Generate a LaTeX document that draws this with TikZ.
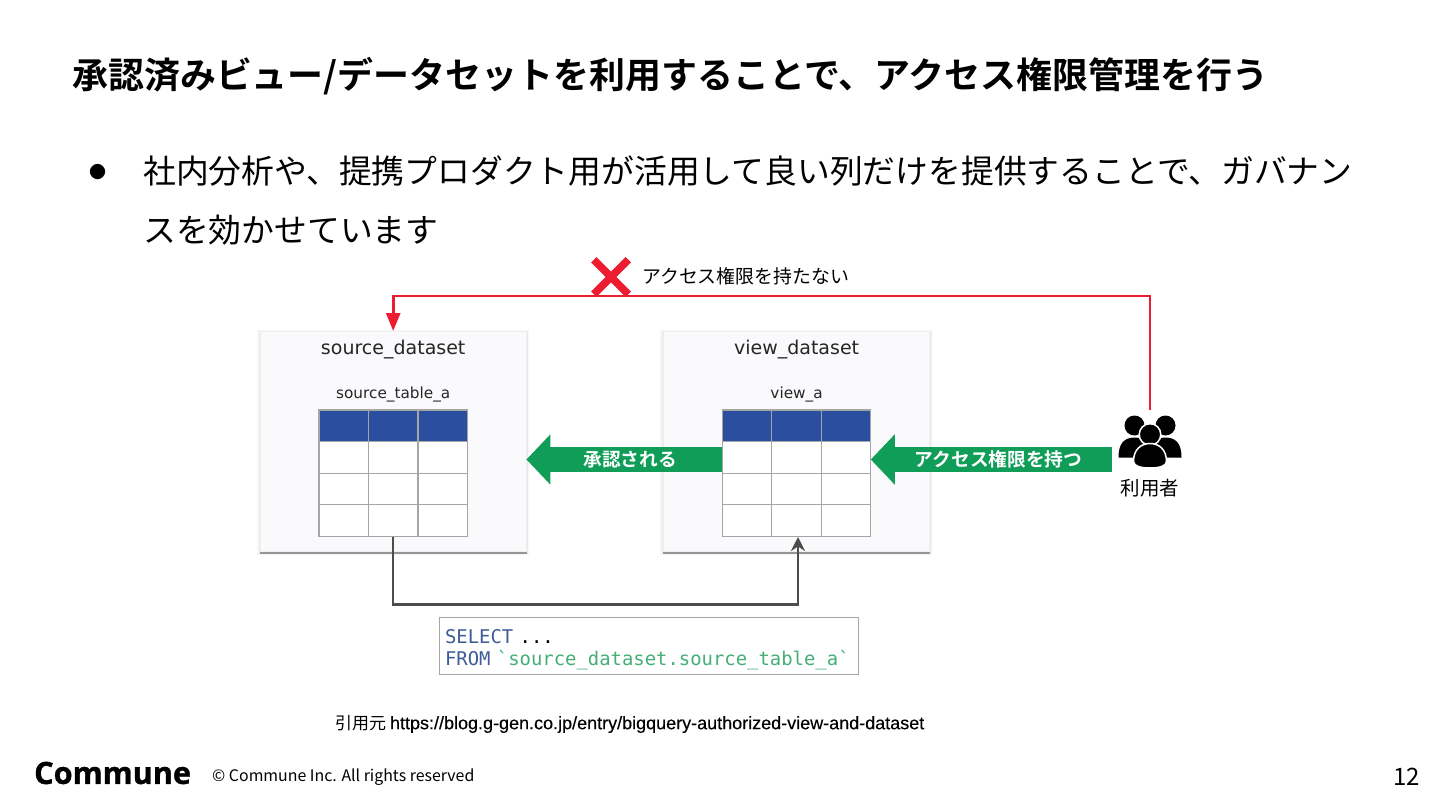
\documentclass[tikz,border=0pt]{standalone}
\usepackage{fontspec}
\usepackage{xcolor}
\usetikzlibrary{arrows.meta,positioning,shadows,shapes.misc,calc}
\setmainfont{Noto Sans CJK JP}
\newfontfamily\cjkbold{Noto Sans CJK JP Bold}
\newfontfamily\dejasans{DejaVu Sans}
\newfontfamily\dejamono{DejaVu Sans Mono}
\newfontfamily\arialfont[FakeBold=0.3]{Liberation Sans}
\newfontfamily\logofont[FakeBold=1.2]{Open Sans}
\definecolor{cajaset}{RGB}{250,250,253}
\definecolor{cajahead}{RGB}{43,79,159}
\definecolor{lineagrid}{RGB}{165,165,165}
\definecolor{lineared}{RGB}{237,28,48}
\definecolor{lineagris}{RGB}{77,77,77}
\definecolor{flechaverde}{RGB}{15,157,88}
\definecolor{sqlazul}{RGB}{62,92,150}
\definecolor{sqlverde}{RGB}{70,175,120}
\newcommand{\fsize}[1]{\fontsize{#1}{#1}\selectfont}
\newcommand{\datatable}[2]{%
  \node[tablebox, #2] (#1) {};
  \node[headbox, anchor=north] (#1Head) at (#1.north) {};
  \foreach \f in {0.3333,0.6667}
    \draw[gridline] ($(#1.north west)!\f!(#1.north east)$) -- ($(#1.south west)!\f!(#1.south east)$);
  \foreach \f in {0.25,0.5,0.75}
    \draw[gridline] ($(#1.north west)!\f!(#1.south west)$) -- ($(#1.north east)!\f!(#1.south east)$);
  \draw[gridline] (#1.north west) rectangle (#1.south east);
}
\tikzset{
  setbox/.style={rectangle, draw=black!6, fill=cajaset, minimum width=266pt, minimum height=220pt, inner sep=0pt,
    drop shadow={shadow xshift=0pt, shadow yshift=-2pt, shadow scale=1.004, fill=black!70, opacity=.5},
    drop shadow={shadow xshift=0pt, shadow yshift=-1pt, shadow scale=1.012, fill=black, opacity=.06},
    drop shadow={shadow xshift=0pt, shadow yshift=-1pt, shadow scale=1.024, fill=black, opacity=.03}},
  tablebox/.style={rectangle, fill=white, minimum width=148pt, minimum height=126pt, inner sep=0pt, anchor=north},
  headbox/.style={rectangle, fill=cajahead, minimum width=148pt, minimum height=31.5pt, inner sep=0pt},
  gridline/.style={draw=lineagrid, line width=1.2pt},
  setlabel/.style={inner sep=0pt, font=\dejasans\fsize{19}, text=black!85},
  tablelabel/.style={inner sep=0pt, font=\dejasans\fsize{15.3}, text=black!85},
  greenarrow/.style={draw=flechaverde, line width=25pt, -{Triangle[length=24pt,width=49pt]}},
  arrowtext/.style={inner sep=0pt, text=white, font=\cjkbold\fsize{18.7}},
  redline/.style={draw=lineared, line width=2.8pt, -{Triangle[length=18pt,width=14pt]}},
  grayline/.style={draw=lineagris, line width=2.6pt, -{Stealth[length=14pt,width=14pt]}},
  plain/.style={inner sep=0pt, anchor=west},
}
\begin{document}
\begin{tikzpicture}[x=1pt,y=-1pt]
\useasboundingbox (0,0) rectangle (1440,810);

\node[plain, font=\cjkbold\fsize{35.95}] (titulo) at (72,76)
  {承認済みビュー/データセットを利用することで、アクセス権限管理を行う};
\node[plain, font=\fsize{17}] (vineta) at (89,172) {●};
\node[plain, anchor=north west, font=\fontsize{32.8}{59}\selectfont, align=left] (cuerpo) at (143,156)
  {社内分析や、提携プロダクト用が活用して良い列だけを提供することで、ガバナン\\スを効かせています};

\node[setbox, anchor=north west] (SourceSet) at (260,331) {};
\node[setbox, right=137pt of SourceSet] (ViewSet) {};
\node[setlabel, below=9pt of SourceSet.north] (SourceLabel) {source\_dataset};
\node[setlabel, below=9pt of ViewSet.north] (ViewLabel) {view\_dataset};

\datatable{SourceTable}{below=79pt of SourceSet.north}
\datatable{ViewTable}{below=79pt of ViewSet.north}
\node[tablelabel, above=8pt of SourceTable] (SourceTableLabel) {source\_table\_a};
\node[tablelabel, above=8pt of ViewTable] (ViewTableLabel) {view\_a};

\node[inner sep=0pt, minimum width=62pt, minimum height=57pt] (Usuarios) at (1150,438.5) {};
\begin{scope}[shift={(Usuarios.center)}]
  \foreach \s in {-1,1} {
    \fill[black] (\s*15.5,-13) circle (10);
    \fill[black] (\s*31.5,19) .. controls (\s*31.5,5) and (\s*26,-1) .. (\s*15,-1)
      .. controls (\s*6,-1) and (\s*4,6) .. (\s*4,19) -- cycle;
  }
  \filldraw[black, draw=white, line width=1.5pt] (0,-4) circle (10.8);
  \filldraw[black, draw=white, line width=1.5pt] (-16.5,23) .. controls (-16.5,11) and (-9,5) .. (0,5)
    .. controls (9,5) and (16.5,11) .. (16.5,23) .. controls (16.5,28) and (8,29.5) .. (0,29.5)
    .. controls (-8,29.5) and (-16.5,28) .. cycle;
\end{scope}
\node[inner sep=0pt, below=12pt of Usuarios, font=\fsize{19.5}] (UsuariosLabel) {利用者};

\coordinate (verdeFin) at (1112,459.5);
\draw[greenarrow] (verdeFin) -- node[arrowtext, pos=.47] (tieneTexto) {アクセス権限を持つ} (ViewTable.east |- verdeFin);
\draw[greenarrow] (ViewTable.west |- verdeFin) -- node[arrowtext, pos=.47] (aprobadoTexto) {承認される} (SourceSet.east |- verdeFin);

\node[cross out, draw=lineared, line width=7.5pt, minimum size=27pt, inner sep=0pt] (marcaNo) at (611,277) {};
\node[plain, font=\fsize{18.9}] (noTexto) at (642,276) {アクセス権限を持たない};
\coordinate (rojoVuelta) at (611,296);
\draw[redline] (Usuarios.north) |- (rojoVuelta) -| (SourceSet.north);

\coordinate (grisInicio) at (393,536.5);
\coordinate (grisFin) at (798,537);
\coordinate (grisBajo) at (600,604.5);
\draw[grayline] (grisInicio) |- (grisBajo) -| (grisFin);

\node[rectangle, draw=black!35, line width=1.2pt, fill=white, anchor=north west, minimum width=419pt, minimum height=57pt,
  text width=408pt, align=left, inner sep=0pt, font=\dejamono\fontsize{18.9}{22}\selectfont] (ConsultaSQL) at (439,617)
  {\rule{0pt}{22pt}\textcolor{sqlazul}{SELECT} ...\\\textcolor{sqlazul}{FROM} \textcolor{sqlverde}{`source\_dataset.source\_table\_a`}};

\node[plain, font=\fsize{17}] (cita) at (335,724) {引用元 {\arialfont\fsize{18}https://blog.g-gen.co.jp/entry/bigquery-authorized-view-and-dataset}};

\node[plain, font=\logofont\bfseries\fsize{30.6}] (logo) at (34,773) {Commune};
\node[plain, font=\fsize{15.9}] (pie) at (212,777) {© Commune Inc. All rights reserved};
\node[inner sep=0pt, anchor=east, font=\fsize{24}] (pagina) at (1420,777) {12};

\end{tikzpicture}
\end{document}
